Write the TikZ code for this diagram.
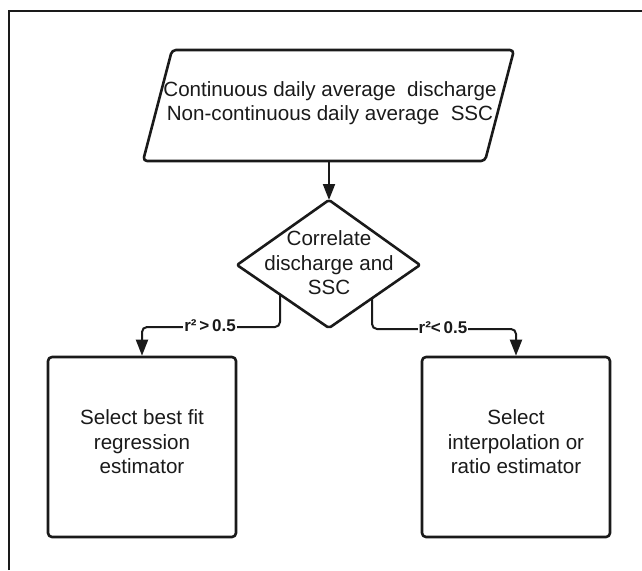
\documentclass[tikz,border=0pt]{standalone}
\usepackage{fontspec}
\setmainfont{Liberation Sans}
\usetikzlibrary{arrows.meta}
\definecolor{ink}{HTML}{1A1A1A}
\tikzset{
  shapeline/.style={draw=ink, line width=2.6pt, rounded corners=4pt, line join=round},
  txt/.style={align=center, inner sep=0pt, font=\fontsize{20.6}{24.5}\selectfont, text=ink},
  boxnode/.style={shapeline, minimum width=188pt, minimum height=180pt, inner sep=0pt},
  conn/.style={draw=ink, line width=2pt, rounded corners=5pt, -{Triangle[length=16pt,width=12pt]}},
  lbl/.style={fill=white, inner sep=1pt, font=\fontsize{17}{20}\selectfont\bfseries, text=ink}
}
\begin{document}
\begin{tikzpicture}[x=1pt,y=-1pt]
\useasboundingbox (0,0) rectangle (642,570);
% outer frame (only left and top edges visible)
\draw[ink, line width=1.5pt] (9,570) -- (9,11) -- (642,11);
% input parallelogram
\draw[shapeline] (172,50) -- (514,50) -- (485,161) -- (143,161) -- cycle;
\node[txt] (input) at (330,103) {Continuous daily average\ \ discharge\\Non-continuous daily average\ \ SSC};
\coordinate (inbot) at (329,161);
% decision diamond
\coordinate (dtop) at (329,200);
\coordinate (dleft) at (237,265);
\coordinate (dright) at (420,265);
\coordinate (dbot) at (329,328);
\draw[shapeline, rounded corners=2pt] (dtop) -- (dright) -- (dbot) -- (dleft) -- cycle;
\node[txt] (corr) at (329,263) {Correlate\\discharge and\\SSC};
\coordinate (dl) at (280,294.5);
\coordinate (dr) at (372,298);
% boxes
\node[boxnode] (lbox) at (142,447) {};
\node[txt] (ltext) at (142,442) {Select best fit\\regression\\estimator};
\node[boxnode] (rbox) at (516,447) {};
\node[txt] (rtext) at (516,442) {Select\\interpolation or\\ratio estimator};
% connectors
\draw[conn] (inbot) -- (dtop);
\draw[conn] (dl) -- (280,327) -- (lbox.north |- 0,327) -- (lbox.north);
\draw[conn] (dr) -- (372,329) -- (rbox.north |- 0,329) -- (rbox.north);
\node[lbl] (lgt) at (210,326) {r²\,>\,0.5};
\node[lbl] (llt) at (443,328) {r²<\,0.5};
\end{tikzpicture}
\end{document}
